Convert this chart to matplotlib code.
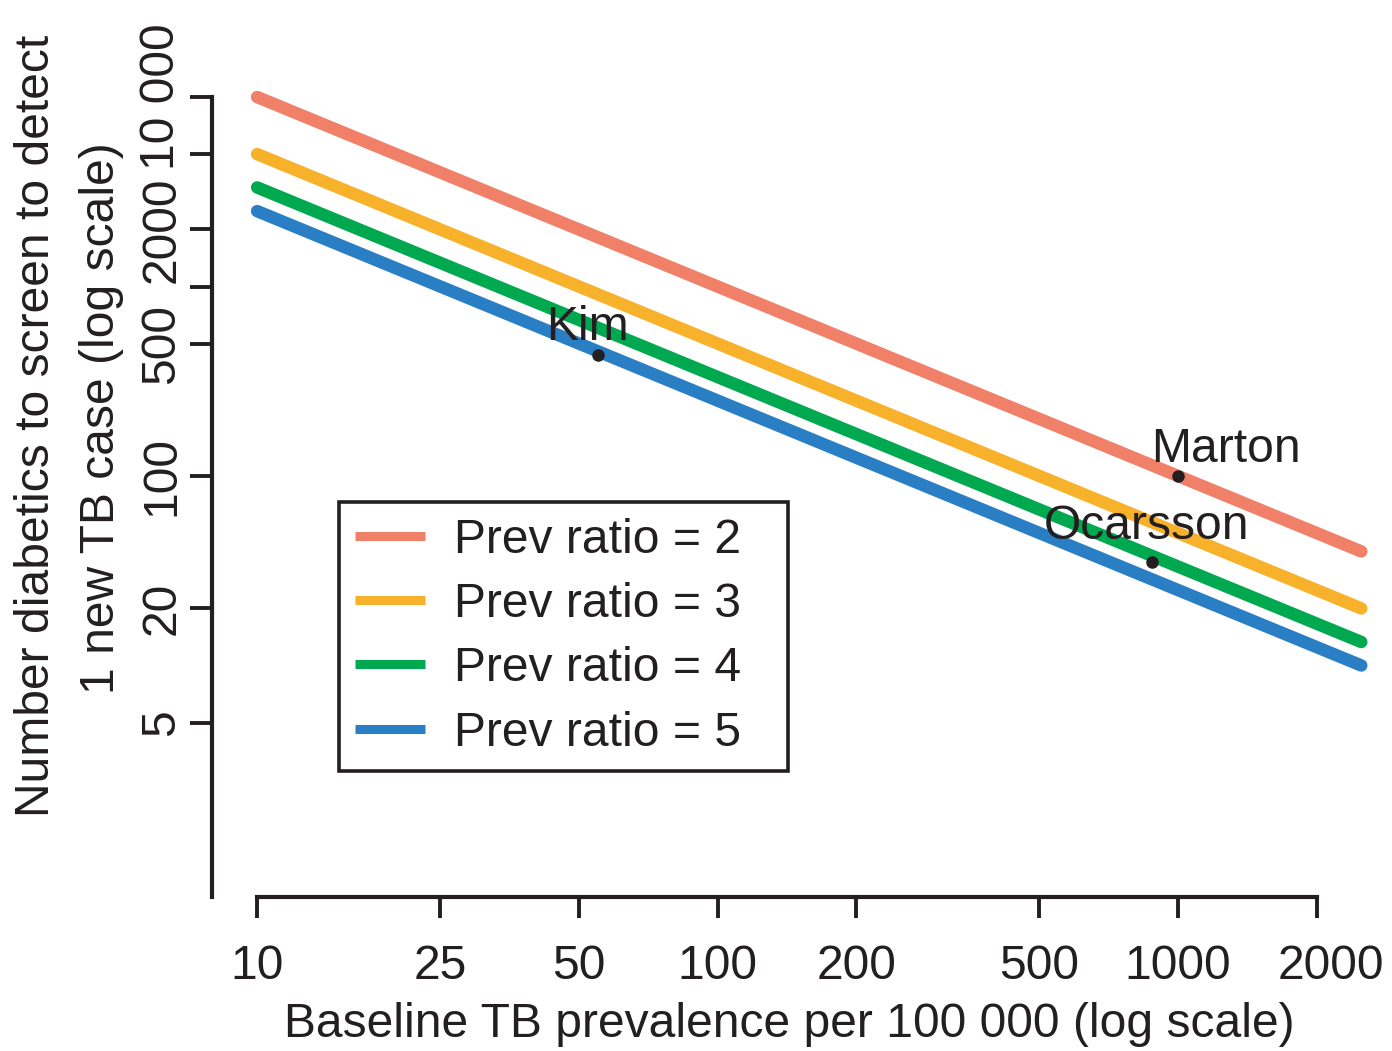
import matplotlib as mpl
import matplotlib.pyplot as plt
from matplotlib.transforms import ScaledTranslation

mpl.rcParams.update({
    "font.family": ["Liberation Sans", "DejaVu Sans"],
    "font.size": 34.6,
    "text.color": "#231F20",
    "axes.edgecolor": "#231F20",
    "xtick.color": "#231F20",
    "ytick.color": "#231F20",
})

# data (log-log straight lines, endpoints)
prevalence = [10, 2500]
nns_ratio2 = [10000, 40]
nns_ratio3 = [5000, 20]
nns_ratio4 = [3333, 13.3]
nns_ratio5 = [2500, 10]
series_labels = ["Prev ratio = 2", "Prev ratio = 3", "Prev ratio = 4", "Prev ratio = 5"]
series_colors = ["#F08068", "#F7B12B", "#00A94F", "#2A7EC3"]

study_names = ["Kim", "Marton", "Ocarsson"]
study_prev = [55, 1000, 878]
study_nns = [436, 100, 35]
label_offsets = [(-11, 15), (48, 14), (-6, 23)]  # pixels, text centre/baseline

xticks = [10, 25, 50, 100, 200, 500, 1000, 2000]
yticks = [5, 20, 100, 500, 1000, 2000, 5000, 10000]
ytick_labels = ["5", "20", "100", "500", "", "2000", "", "10 000"]

W, H = 1392, 1051
fig = plt.figure(figsize=(W / 100, H / 100), dpi=100)
left, right, top, bottom = 212, 1392, 40, 897
ax = fig.add_axes([left / W, 1 - bottom / H, (right - left) / W, (bottom - top) / H])
ax.set_xscale("log")
ax.set_yscale("log")
ax.set_xlim(7.98, 2915)
ax.set_ylim(0.6, 20000)

for y, lab, col in zip([nns_ratio2, nns_ratio3, nns_ratio4, nns_ratio5], series_labels, series_colors):
    ax.plot(prevalence, y, color=col, lw=9, solid_capstyle="round", label=lab)

ax.plot(study_prev, study_nns, "o", color="#231F20", ms=8, zorder=5)
for name, x, y, off in zip(study_names, study_prev, study_nns, label_offsets):
    ax.annotate(name, (x, y), xytext=off, textcoords="offset pixels",
                ha="center", va="baseline", zorder=6)

for s in ("top", "right"):
    ax.spines[s].set_visible(False)
ax.spines["left"].set_bounds(0.6, 10000)
ax.spines["bottom"].set_bounds(10, 2000)
ax.spines["left"].set_linewidth(3)
ax.spines["bottom"].set_linewidth(3)

ax.set_xticks(xticks, [str(t) for t in xticks])
ax.set_yticks(yticks, ytick_labels)
ax.minorticks_off()
ax.tick_params(axis="x", length=15, width=2.8, pad=19)
ax.tick_params(axis="y", length=16, width=2.8, pad=4)
plt.setp(ax.get_yticklabels(), rotation=90, va="center")
last = ax.get_xticklabels()[-1]
last.set_transform(last.get_transform() + ScaledTranslation(0.14, 0, fig.dpi_scale_trans))

leg = ax.legend(loc="upper left", bbox_to_anchor=(339 / W, 1 - 770 / H, 449 / W, 268 / H),
                bbox_transform=fig.transFigure, mode="expand", fancybox=False,
                edgecolor="#231F20", framealpha=1, handlelength=1.45, handletextpad=0.62,
                borderpad=0.33, labelspacing=0.40, borderaxespad=0)
leg.get_frame().set_linewidth(2.6)
for h in leg.get_lines():
    h.set_linewidth(6.5)
    h.set_solid_capstyle("butt")

fig.text(37 / W, 1 - 426 / H, "Number diabetics to screen to detect",
         rotation=90, ha="center", va="center")
fig.text(102 / W, 1 - 418 / H, "1 new TB case (log scale)",
         rotation=90, ha="center", va="center")
fig.text(789 / W, 1 - 1037 / H, "Baseline TB prevalence per 100 000 (log scale)",
         ha="center", va="baseline")

fig.savefig("out.png", dpi=100)
